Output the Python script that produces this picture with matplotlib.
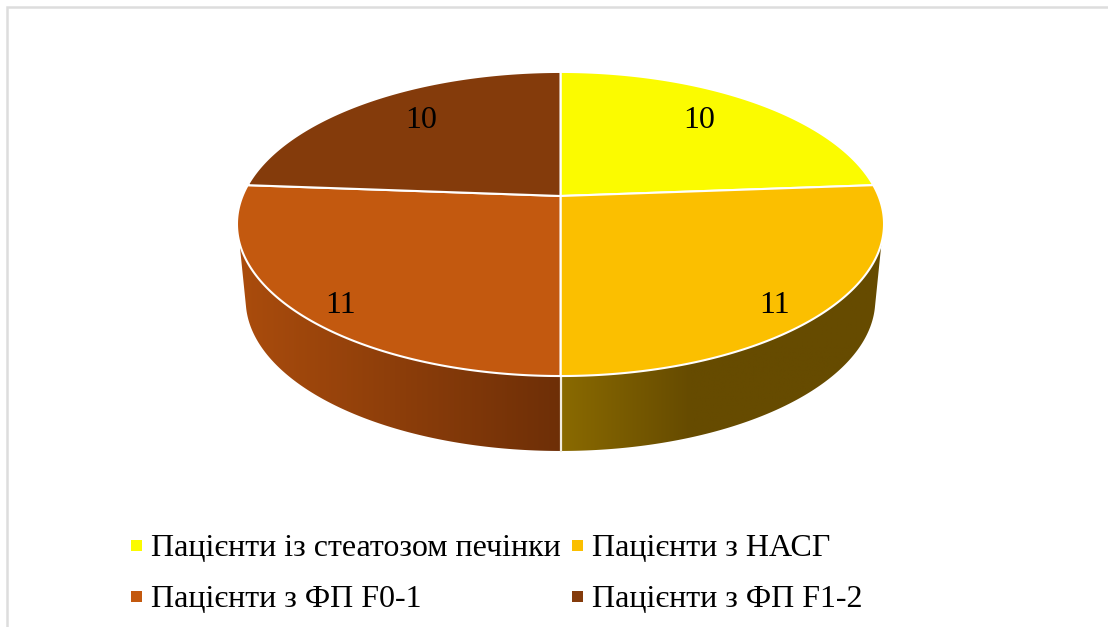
import numpy as np
import matplotlib
matplotlib.use("Agg")
import matplotlib.pyplot as plt
from matplotlib.patches import Polygon, Rectangle

# Patient groups and counts
groups = ["Пацієнти із стеатозом печінки", "Пацієнти з НАСГ", "Пацієнти з ФП F0-1", "Пацієнти з ФП F1-2"]
counts = [10, 11, 11, 10]
colors = ["#FBFB00", "#FBBF00", "#C3590F", "#843B0B"]

plt.rcParams["font.family"] = ["Liberation Serif", "DejaVu Serif"]

# ---------------- perspective of the disc, in pixels --------------------
CX, CY = 560.5, 196
RX, RY = 318, 146.9
K = 0.184


def top_rim(deg):
    # deg runs clockwise from the far side of the disc
    t = np.radians(deg)
    w = 1 / (1 + K * np.cos(t))
    return CX + RX * np.sin(t) * w, CY - RY * np.cos(t) * w


def bottom_rim(deg):
    x, y = top_rim(deg)
    return CX + (x - CX) * 0.973, 300 + (y - 224) * 0.993


def side_wall(ax, start, end, c_left, c_right, fade_end):
    # Wall between two rim angles, filled with a horizontal gradient
    up = np.array(top_rim(np.linspace(max(start, 107.6), min(end, 252.4), 200))).T
    low = np.array(bottom_rim(np.linspace(min(end, 257), max(start, 103), 200))).T
    pts = np.vstack([up, low])
    x0, x1 = pts[:, 0].min(), pts[:, 0].max()
    xs = np.linspace(x0, x1, 256)
    mix = np.clip((xs - x0) / (fade_end - x0), 0, 1)[:, None]
    c0, c1 = np.array(matplotlib.colors.to_rgb(c_left)), np.array(matplotlib.colors.to_rgb(c_right))
    grad = (c0 + (c1 - c0) * mix)[None, :, :]
    im = ax.imshow(grad, extent=(x0, x1, pts[:, 1].max(), pts[:, 1].min()), aspect="auto", zorder=1)
    patch = Polygon(pts, closed=True, facecolor="none", edgecolor="none", zorder=1)
    ax.add_patch(patch)
    im.set_clip_path(patch)


fig = plt.figure(figsize=(11.08, 6.27), dpi=100)
ax = fig.add_axes([0, 0, 1, 1])

# Chart frame, only the top and left edges are visible
ax.plot([7, 7, 1108], [627, 7, 7], color="#DDDDDD", lw=1.8, zorder=0, solid_joinstyle="miter")

# Slice angles from the counts
edges = np.cumsum([0] + counts) / sum(counts) * 360

# ---------------------------- walls -------------------------------------
side_wall(ax, edges[1], edges[2], "#8A6A00", "#664B00", 690)
side_wall(ax, edges[2], edges[3], "#AA4C0D", "#6E2F07", CX)
x_top, y_top = top_rim(edges[2])
x_low, y_low = bottom_rim(edges[2])
ax.plot([x_top, x_low], [y_top, y_low], color="#F2EDE0", lw=1.6, zorder=2)

# ---------------------------- slices ------------------------------------
for i, color in enumerate(colors):
    x, y = top_rim(np.linspace(edges[i], edges[i + 1], 200))
    pts = np.column_stack([np.r_[CX, x], np.r_[CY, y]])
    ax.add_patch(Polygon(pts, closed=True, facecolor=color, edgecolor="white", lw=1.5, zorder=3))

# ---------------------------- value labels ------------------------------
label_xy = [(699, 128), (775, 313), (341, 313), (421, 128)]
for value, (x, y) in zip(counts, label_xy):
    ax.text(x, y, str(value), fontsize=23, ha="center", va="baseline", color="black", zorder=4)

# ---------------------------- legend ------------------------------------
legend_xy = [(131, 545), (572, 545), (131, 596), (572, 596)]
for name, color, (x, y) in zip(groups, colors, legend_xy):
    ax.add_patch(Rectangle((x, y - 5.5), 10.5, 11, facecolor=color, edgecolor="none", zorder=4))
    ax.text(x + 20, y + 11, name, fontsize=23, ha="left", va="baseline", color="black", zorder=4)

ax.set_xlim(0, 1108)
ax.set_ylim(627, 0)
ax.axis("off")

fig.savefig("out.png", dpi=100, facecolor="white")
